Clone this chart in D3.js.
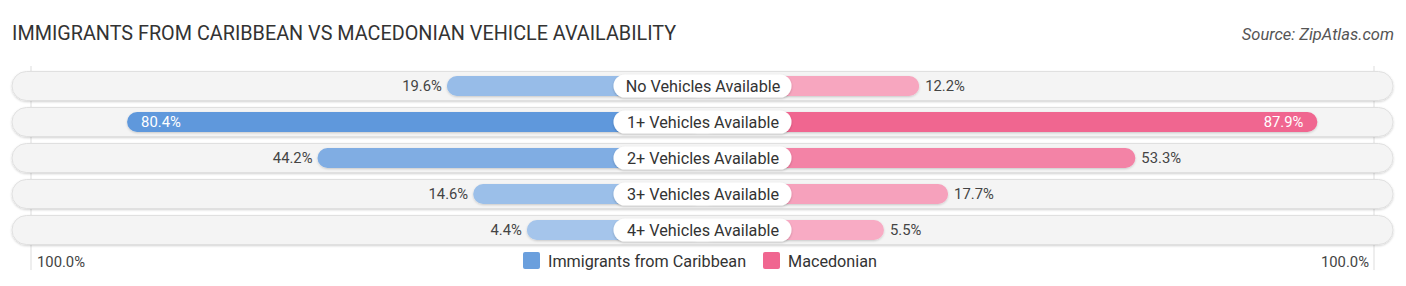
<!DOCTYPE html>
<html><head><meta charset="utf-8">
<script src="https://cdn.jsdelivr.net/npm/d3@7"></script>
<style>body{margin:0;background:#fff;} svg{display:block;font-family:Roboto,"Noto Sans",sans-serif;}</style>
</head><body><svg id="c" width="1406" height="286"></svg>
<script>
const categories = ["No Vehicles Available","1+ Vehicles Available","2+ Vehicles Available","3+ Vehicles Available","4+ Vehicles Available"];
const caribbean = [19.6, 80.4, 44.2, 14.6, 4.4];
const macedonian = [12.2, 87.9, 53.3, 17.7, 5.5];
const seriesNames = ["Immigrants from Caribbean","Macedonian"];
const axisLabels = ["100.0%","100.0%"];

const svg = d3.select("#c");
const cx = 702.5, off = 152.5;
const len = d3.scaleLinear().domain([0,100]).range([0,526]);
const y = d3.scaleBand().domain(categories).range([68,248]).paddingInner(0);
const rowH = 29, barH = 20;

const defs = svg.append("defs");
const f = defs.append("filter").attr("id","sh").attr("x","-5%").attr("y","-30%").attr("width","110%").attr("height","160%");
f.append("feDropShadow").attr("dx",0).attr("dy",1).attr("stdDeviation",1).attr("flood-color","#000").attr("flood-opacity",0.18);
const f2 = defs.append("filter").attr("id","sh2").attr("x","-5%").attr("y","-30%").attr("width","110%").attr("height","160%");
f2.append("feDropShadow").attr("dx",0).attr("dy",1).attr("stdDeviation",1.2).attr("flood-color","#000").attr("flood-opacity",0.22);

svg.append("text").attr("x",12).attr("y",40).attr("font-size",19.8).attr("fill","#333")
  .text("IMMIGRANTS FROM CARIBBEAN VS MACEDONIAN VEHICLE AVAILABILITY");
svg.append("text").attr("x",1394).attr("y",40).attr("text-anchor","end").attr("font-size",16.5)
  .attr("font-style","italic").attr("fill","#555").text("Source: ZipAtlas.com");

// grid lines
[cx-off-len(100)+7, cx+off+len(100)-7].forEach(x=>{
  svg.append("line").attr("x1",x).attr("x2",x).attr("y1",66).attr("y2",270).attr("stroke","#ddd").attr("stroke-width",1);
});

const blueCol = d3.scaleLinear().domain([0,80]).range(["#a9c8ec","#5e98dc"]);
const pinkCol = d3.scaleLinear().domain([0,88]).range(["#f8b0c7","#f06690"]);

categories.forEach((c,i)=>{
  const yc = y(c) + y.bandwidth()/2;
  svg.append("rect").attr("x",12).attr("y",yc-rowH/2).attr("width",1381).attr("height",rowH)
    .attr("rx",rowH/2).attr("fill","#f4f4f4").attr("stroke","#e0e0e0").attr("stroke-width",1).attr("filter","url(#sh)");
  const lv = caribbean[i], rv = macedonian[i];
  const lx = cx - off - len(lv);
  const rx = cx + off + len(rv);
  svg.append("rect").attr("x",lx).attr("y",yc-barH/2).attr("width",cx-lx).attr("height",barH)
    .attr("rx",barH/2).attr("fill",blueCol(lv)).attr("filter","url(#sh)");
  svg.append("rect").attr("x",cx).attr("y",yc-barH/2).attr("width",rx-cx).attr("height",barH)
    .attr("rx",barH/2).attr("fill",pinkCol(rv)).attr("filter","url(#sh)");
  const lin = lv > 60, rin = rv > 60;
  svg.append("text").attr("x", lin ? lx+14 : lx-5).attr("y",yc+5).attr("font-size",14.8)
    .attr("text-anchor", lin ? "start":"end").attr("fill", lin ? "#fff":"#444").text(lv.toFixed(1)+"%");
  svg.append("text").attr("x", rin ? rx-14 : rx+6).attr("y",yc+5).attr("font-size",14.8)
    .attr("text-anchor", rin ? "end":"start").attr("fill", rin ? "#fff":"#444").text(rv.toFixed(1)+"%");
  svg.append("rect").attr("x",cx-89).attr("y",yc-11.5).attr("width",178).attr("height",23)
    .attr("rx",11.5).attr("fill","#fff").attr("filter","url(#sh2)");
  svg.append("text").attr("x",cx+0.5).attr("y",yc+5.5).attr("text-anchor","middle").attr("font-size",16.2)
    .attr("fill","#333").text(c);
});

svg.append("text").attr("x",37).attr("y",267).attr("font-size",14.8).attr("fill","#444").text(axisLabels[0]);
svg.append("text").attr("x",1369).attr("y",267).attr("text-anchor","end").attr("font-size",14.8).attr("fill","#444").text(axisLabels[1]);
const leg = [{x:523,c:"#6a9fdd",t:seriesNames[0]},{x:763,c:"#f06690",t:seriesNames[1]}];
leg.forEach(l=>{
  svg.append("rect").attr("x",l.x).attr("y",252).attr("width",17).attr("height",17).attr("rx",2).attr("fill",l.c);
  svg.append("text").attr("x",l.x+25).attr("y",267).attr("font-size",16.2).attr("fill","#333").text(l.t);
});
</script></body></html>
